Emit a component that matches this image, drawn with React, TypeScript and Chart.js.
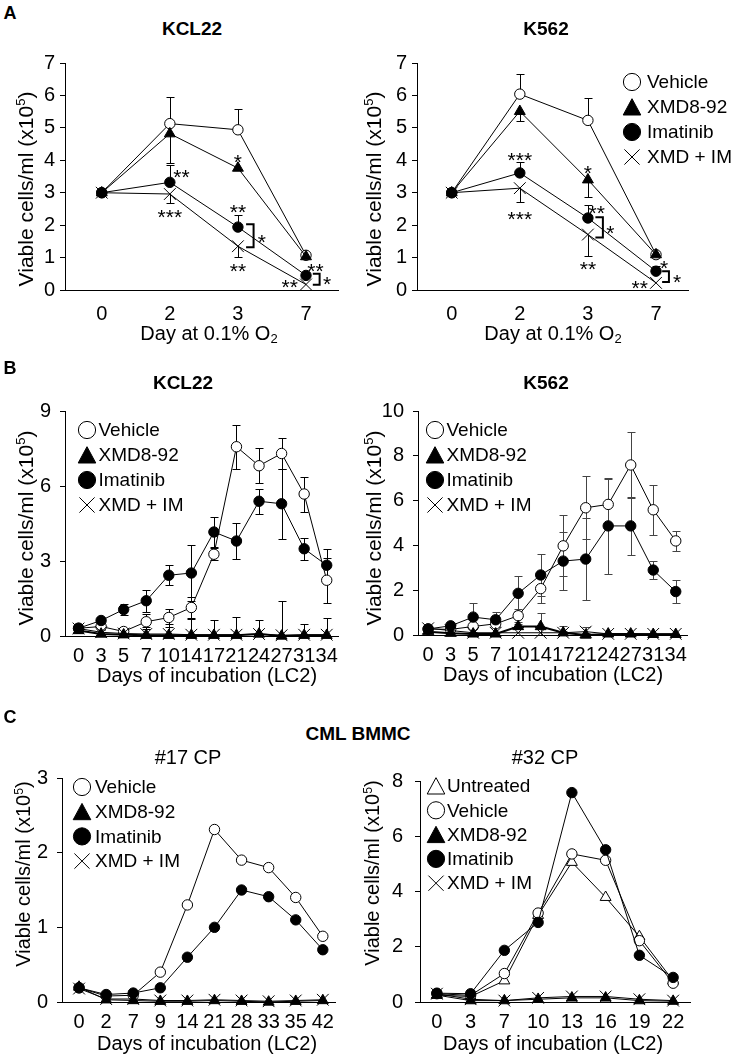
import React, { useEffect, useRef } from 'react';
import { Chart, registerables } from 'chart.js';

Chart.register(...registerables);

const FONT = "'Liberation Sans', Arial, Helvetica, sans-serif";

// ---------------- Panel A : Day at 0.1% O2 ----------------
const daysA = ['0', '2', '3', '7'];

const aKclVehicle = [3.0, 5.13, 4.94, 1.07];
const aKclVehicleErrUp = [0, 0.81, 0.65, 0];
const aKclXmd = [3.0, 4.82, 3.76, 1.03];
const aKclXmdErrDown = [0, 0.9, 0, 0];
const aKclIm = [3.0, 3.32, 1.94, 0.45];
const aKclImErrUp = [0, 0.54, 0.38, 0];
const aKclCombo = [3.0, 2.96, 1.35, 0.17];
const aKclComboErrDown = [0, 0.28, 0.33, 0];

const aK562Vehicle = [3.0, 6.04, 5.23, 1.09];
const aK562VehicleErrUp = [0, 0.63, 0.69, 0];
const aK562Xmd = [3.0, 5.51, 3.4, 1.09];
const aK562XmdErrDown = [0, 0.31, 0.54, 0];
const aK562Im = [3.0, 3.61, 2.22, 0.58];
const aK562ImErrUp = [0, 0.34, 0.41, 0.15];
const aK562Combo = [3.0, 3.14, 1.71, 0.22];
const aK562ComboErrDown = [0, 0.43, 0.67, 0];

// significance marks: [x (category index), y (value), text]
const aKclStars: [number, number, string][] = [
  [2.0, 4.12, '*'],
  [1.17, 3.64, '**'],
  [1.0, 2.4, '***'],
  [2.0, 2.55, '**'],
  [2.35, 1.65, '*'],
  [2.0, 0.76, '**'],
  [3.14, 0.76, '**'],
  [2.76, 0.25, '**'],
  [3.31, 0.34, '*'],
];
// brackets: [x of tips, x of spine, y top, y bottom]
const aKclBrackets: [number, number, number, number][] = [
  [2.12, 2.23, 2.03, 1.32],
  [3.1, 3.2, 0.5, 0.16],
];
const aK562Stars: [number, number, string][] = [
  [1.0, 4.17, '***'],
  [1.0, 2.34, '***'],
  [2.0, 3.76, '*'],
  [2.13, 2.53, '**'],
  [2.33, 1.91, '*'],
  [2.0, 0.8, '**'],
  [3.12, 0.83, '*'],
  [2.76, 0.22, '**'],
  [3.31, 0.42, '*'],
];
const aK562Brackets: [number, number, number, number][] = [
  [2.11, 2.22, 2.24, 1.62],
  [3.09, 3.19, 0.58, 0.25],
];

// ---------------- Panel B : Days of incubation (LC2) ----------------
const daysB = ['0', '3', '5', '7', '10', '14', '17', '21', '24', '27', '31', '34'];

const bKclVehicle = [0.31, 0.38, 0.18, 0.57, 0.74, 1.14, 3.27, 7.57, 6.81, 7.3, 5.68, 2.23];
const bKclVehicleErr = [0.05, 0.1, 0.1, 0.3, 0.36, 0.43, 0.24, 0.87, 0.69, 0.62, 0.7, 0.89];
const bKclXmd = [0.22, 0.08, 0.05, 0.03, 0.03, 0.03, 0.03, 0.03, 0.08, 0.0, 0.03, 0.03];
const bKclIm = [0.31, 0.62, 1.06, 1.41, 2.43, 2.52, 4.16, 3.8, 5.39, 5.29, 3.49, 2.83];
const bKclImErr = [0.05, 0.08, 0.23, 0.45, 0.4, 1.13, 0.58, 0.73, 0.5, 1.4, 0.45, 0.66];
const bKclCombo = [0.3, 0.15, 0.1, 0.08, 0.08, 0.05, 0.05, 0.05, 0.08, 0.03, 0.05, 0.05];
const bKclComboErr = [0, 0.1, 0.15, 0.3, 0.42, 0.65, 0.6, 0.72, 0.58, 1.38, 0.45, 0.69];

const bK562Vehicle = [0.27, 0.25, 0.38, 0.5, 0.86, 2.07, 3.98, 5.68, 5.83, 7.59, 5.59, 4.2];
const bK562VehicleErr = [0.05, 0.05, 0.1, 0.1, 0.3, 0.65, 1.36, 1.4, 1.12, 1.49, 1.12, 0.43];
const bK562Xmd = [0.15, 0.08, 0.05, 0.05, 0.38, 0.38, 0.1, 0.0, 0.05, 0.05, 0.03, 0.03];
const bK562XmdErr = [0, 0, 0, 0, 0.1, 0.6, 0.1, 0.1, 0, 0, 0, 0];
const bK562Im = [0.27, 0.41, 0.8, 0.68, 1.86, 2.68, 3.3, 3.39, 4.87, 4.87, 2.9, 1.94];
const bK562ImErr = [0.05, 0.05, 0.65, 0.34, 0.77, 0.92, 1.3, 1.82, 2.15, 1.3, 0.4, 0.5];
const bK562Combo = [0.3, 0.2, 0.1, 0.1, 0.1, 0.1, 0.1, 0.15, 0.05, 0.05, 0.05, 0.05];
const bK562ComboErr = [0, 0, 0, 0, 0, 0, 0.3, 0.2, 0, 0, 0, 0];

// ---------------- Panel C : CML BMMC ----------------
const daysC17 = ['0', '2', '7', '9', '14', '21', '28', '33', '35', '42'];
const c17Vehicle = [0.19, 0.08, 0.09, 0.4, 1.3, 2.31, 1.9, 1.8, 1.4, 0.88];
const c17Xmd = [0.2, 0.03, 0.02, 0.01, 0.01, 0.02, 0.01, 0.0, 0.01, 0.02];
const c17Im = [0.19, 0.1, 0.12, 0.19, 0.6, 1.0, 1.5, 1.41, 1.1, 0.7];
const c17Combo = [0.18, 0.04, 0.04, 0.02, 0.02, 0.03, 0.02, 0.01, 0.02, 0.03];

const daysC32 = ['0', '3', '7', '10', '13', '16', '19', '22'];
const c32Untreated = [0.25, 0.2, 0.77, 3.14, 5.06, 3.79, 2.37, 0.77];
const c32Vehicle = [0.3, 0.24, 1.03, 3.22, 5.36, 5.13, 2.22, 0.68];
const c32Xmd = [0.25, 0.05, 0.05, 0.1, 0.15, 0.15, 0.05, 0.03];
const c32Im = [0.32, 0.3, 1.87, 2.88, 7.58, 5.51, 1.69, 0.89];
const c32Combo = [0.3, 0.1, 0.05, 0.15, 0.2, 0.2, 0.1, 0.05];

// ---------------- types ----------------
type Marker = 'circle' | 'triangle' | 'crossRot';
interface SeriesDef {
  label: string;
  values: number[];
  marker: Marker;
  filled: boolean;
  errUp?: number[];
  errDown?: number[];
  lineWidth?: number;
  order: number;
}
interface PanelDef {
  key: string;
  cats: string[];
  series: SeriesDef[];
  yMax: number;
  yStep: number;
  area: { l: number; t: number; r: number; b: number };
  xMin: number;
  xMax: number;
  yPad: number;
  xPad: number;
  errColor?: string;
  legend?: { x: number; y: number; row: number; dx: number };
  stars?: [number, number, string][];
  brackets?: [number, number, number, number][];
}

const RADIUS: Record<Marker, number> = { circle: 5.2, triangle: 6.3, crossRot: 8.3 };
const PAD_L = 60;
const PAD_T = 20;
const PAD_R = 45;
const PAD_B = 45;

const S = (
  label: string,
  values: number[],
  marker: Marker,
  filled: boolean,
  order: number,
  extra: Partial<SeriesDef> = {}
): SeriesDef => ({ label, values, marker, filled, order, ...extra });

const panels: PanelDef[] = [
  {
    key: 'aKcl',
    cats: daysA,
    series: [
      S('Vehicle', aKclVehicle, 'circle', false, 3, { errUp: aKclVehicleErrUp }),
      S('XMD8-92', aKclXmd, 'triangle', true, 1, { errDown: aKclXmdErrDown }),
      S('Imatinib', aKclIm, 'circle', true, 0, { errUp: aKclImErrUp }),
      S('XMD + IM', aKclCombo, 'crossRot', false, 2, { errDown: aKclComboErrDown }),
    ],
    yMax: 7, yStep: 1,
    area: { l: 65, t: 63, r: 338, b: 290 }, xMin: -0.54, xMax: 3.47,
    yPad: 5, xPad: 12,
    stars: aKclStars, brackets: aKclBrackets,
  },
  {
    key: 'aK562',
    cats: daysA,
    series: [
      S('Vehicle', aK562Vehicle, 'circle', false, 3, { errUp: aK562VehicleErrUp }),
      S('XMD8-92', aK562Xmd, 'triangle', true, 1, { errDown: aK562XmdErrDown }),
      S('Imatinib', aK562Im, 'circle', true, 0, { errUp: aK562ImErrUp }),
      S('XMD + IM', aK562Combo, 'crossRot', false, 2, { errDown: aK562ComboErrDown }),
    ],
    yMax: 7, yStep: 1,
    area: { l: 417, t: 63, r: 688, b: 290 }, xMin: -0.51, xMax: 3.47,
    yPad: 5, xPad: 12,
    legend: { x: 632, y: 82, row: 25, dx: 15 },
    stars: aK562Stars, brackets: aK562Brackets,
  },
  {
    key: 'bKcl',
    cats: daysB,
    series: [
      S('Vehicle', bKclVehicle, 'circle', false, 3, { errUp: bKclVehicleErr, errDown: bKclVehicleErr }),
      S('XMD8-92', bKclXmd, 'triangle', true, 1, { lineWidth: 2 }),
      S('Imatinib', bKclIm, 'circle', true, 0, { errUp: bKclImErr, errDown: bKclImErr }),
      S('XMD + IM', bKclCombo, 'crossRot', false, 2, { errUp: bKclComboErr, errDown: bKclComboErr }),
    ],
    yMax: 9, yStep: 3,
    area: { l: 65, t: 410, r: 338, b: 636 }, xMin: -0.6, xMax: 11.5,
    yPad: 9, xPad: 8,
    legend: { x: 87, y: 430, row: 25, dx: 11.5 },
  },
  {
    key: 'bK562',
    cats: daysB,
    series: [
      S('Vehicle', bK562Vehicle, 'circle', false, 3, { errUp: bK562VehicleErr, errDown: bK562VehicleErr }),
      S('XMD8-92', bK562Xmd, 'triangle', true, 1, { lineWidth: 2, errUp: bK562XmdErr, errDown: bK562XmdErr }),
      S('Imatinib', bK562Im, 'circle', true, 0, { errUp: bK562ImErr, errDown: bK562ImErr }),
      S('XMD + IM', bK562Combo, 'crossRot', false, 2, { errUp: bK562ComboErr, errDown: bK562ComboErr }),
    ],
    yMax: 10, yStep: 2,
    area: { l: 418, t: 410, r: 687, b: 635 }, xMin: -0.45, xMax: 11.5,
    yPad: 9, xPad: 8,
    errColor: '#444',
    legend: { x: 435, y: 430, row: 25, dx: 11.5 },
  },
  {
    key: 'c17',
    cats: daysC17,
    series: [
      S('Vehicle', c17Vehicle, 'circle', false, 3),
      S('XMD8-92', c17Xmd, 'triangle', true, 1),
      S('Imatinib', c17Im, 'circle', true, 0),
      S('XMD + IM', c17Combo, 'crossRot', false, 2),
    ],
    yMax: 3, yStep: 1,
    area: { l: 62, t: 777, r: 335, b: 1002 }, xMin: -0.63, xMax: 9.45,
    yPad: 9, xPad: 8,
    legend: { x: 82, y: 787, row: 24.7, dx: 13 },
  },
  {
    key: 'c32',
    cats: daysC32,
    series: [
      S('Untreated', c32Untreated, 'triangle', false, 4),
      S('Vehicle', c32Vehicle, 'circle', false, 3),
      S('XMD8-92', c32Xmd, 'triangle', true, 1),
      S('Imatinib', c32Im, 'circle', true, 0),
      S('XMD + IM', c32Combo, 'crossRot', false, 2),
    ],
    yMax: 8, yStep: 2,
    area: { l: 420, t: 777, r: 690, b: 1002 }, xMin: -0.5, xMax: 7.5,
    yPad: 12, xPad: 8,
    legend: { x: 436, y: 786, row: 24.3, dx: 11 },
  },
];

// ---------------- drawing helpers ----------------
function drawLegendMarker(ctx: CanvasRenderingContext2D, m: Marker, filled: boolean, x: number, y: number) {
  ctx.save();
  ctx.lineWidth = 1;
  ctx.strokeStyle = '#000';
  ctx.fillStyle = filled ? '#000' : '#fff';
  ctx.beginPath();
  if (m === 'circle') {
    ctx.arc(x, y, 8.6, 0, Math.PI * 2);
    ctx.fill();
    ctx.stroke();
  } else if (m === 'triangle') {
    ctx.moveTo(x, y - 8.3);
    ctx.lineTo(x + 8.8, y + 8);
    ctx.lineTo(x - 8.8, y + 8);
    ctx.closePath();
    ctx.fill();
    ctx.stroke();
  } else {
    const h = 7.6;
    ctx.moveTo(x - h, y - h);
    ctx.lineTo(x + h, y + h);
    ctx.moveTo(x + h, y - h);
    ctx.lineTo(x - h, y + h);
    ctx.stroke();
  }
  ctx.restore();
}

function buildConfig(def: PanelDef, ox: number, oy: number): any {
  const datasets = def.series.map((s) => ({
    label: s.label,
    data: s.values.map((v, i) => ({ x: i, y: v })),
    borderColor: '#000',
    borderWidth: s.lineWidth ?? 1,
    backgroundColor: s.filled ? '#000' : '#fff',
    pointStyle: s.marker,
    pointRadius: RADIUS[s.marker],
    pointBackgroundColor: s.filled ? '#000' : '#fff',
    pointBorderColor: '#000',
    pointBorderWidth: 1,
    tension: 0,
    fill: false,
    clip: false,
    order: s.order,
  }));

  const errorBars = {
    id: 'errorBars_' + def.key,
    beforeDatasetsDraw(chart: any) {
      const { ctx, chartArea, scales } = chart;
      const xs = scales.x;
      const ys = scales.y;
      ctx.save();
      ctx.beginPath();
      ctx.rect(chartArea.left, chartArea.top, chartArea.right - chartArea.left, chartArea.bottom - chartArea.top);
      ctx.clip();
      ctx.strokeStyle = def.errColor ?? '#000';
      ctx.lineWidth = 1;
      def.series.forEach((s) => {
        s.values.forEach((v, i) => {
          const up = s.errUp ? s.errUp[i] : 0;
          const dn = s.errDown ? s.errDown[i] : 0;
          if (!up && !dn) return;
          const px = Math.round(xs.getPixelForValue(i)) + 0.5;
          const yTop = Math.round(ys.getPixelForValue(v + up)) + 0.5;
          const yBot = Math.round(ys.getPixelForValue(v - dn)) + 0.5;
          ctx.beginPath();
          ctx.moveTo(px, yTop);
          ctx.lineTo(px, yBot);
          if (up) {
            ctx.moveTo(px - 4, yTop);
            ctx.lineTo(px + 4, yTop);
          }
          if (dn) {
            ctx.moveTo(px - 4, yBot);
            ctx.lineTo(px + 4, yBot);
          }
          ctx.stroke();
        });
      });
      ctx.restore();
    },
  };

  const marks = {
    id: 'marks_' + def.key,
    afterDatasetsDraw(chart: any) {
      const { ctx, scales } = chart;
      const xs = scales.x;
      const ys = scales.y;
      ctx.save();
      ctx.fillStyle = '#000';
      ctx.font = `21px ${FONT}`;
      ctx.textAlign = 'center';
      ctx.textBaseline = 'alphabetic';
      (def.stars ?? []).forEach(([sx, sy, t]) => {
        ctx.fillText(t, xs.getPixelForValue(sx), ys.getPixelForValue(sy) + 0.58 * 21);
      });
      ctx.strokeStyle = '#000';
      ctx.lineWidth = 2;
      (def.brackets ?? []).forEach(([x0, x1, y1, y2]) => {
        const a = xs.getPixelForValue(x0);
        const b = xs.getPixelForValue(x1);
        const t = ys.getPixelForValue(y1);
        const u = ys.getPixelForValue(y2);
        ctx.beginPath();
        ctx.moveTo(a, t);
        ctx.lineTo(b, t);
        ctx.lineTo(b, u);
        ctx.lineTo(a, u);
        ctx.stroke();
      });
      ctx.restore();
    },
  };

  const legend = {
    id: 'legend_' + def.key,
    afterDraw(chart: any) {
      if (!def.legend) return;
      const { ctx } = chart;
      const L = def.legend;
      ctx.save();
      ctx.font = `19px ${FONT}`;
      ctx.fillStyle = '#000';
      ctx.textAlign = 'left';
      ctx.textBaseline = 'middle';
      def.series.forEach((s, i) => {
        const cy = L.y - oy + i * L.row;
        const cx = L.x - ox;
        drawLegendMarker(ctx, s.marker, s.filled, cx, cy);
        ctx.fillText(s.label, cx + L.dx, cy + 1);
      });
      ctx.restore();
    },
  };

  return {
    type: 'line',
    data: { datasets },
    options: {
      responsive: false,
      animation: false,
      events: [],
      layout: { padding: { top: PAD_T, right: PAD_R, bottom: 0, left: 0 } },
      plugins: { legend: { display: false }, tooltip: { enabled: false }, title: { display: false } },
      scales: {
        x: {
          type: 'linear',
          min: def.xMin,
          max: def.xMax,
          afterBuildTicks: (s: any) => {
            s.ticks = def.cats.map((_, i) => ({ value: i }));
          },
          afterFit: (s: any) => {
            s.height = PAD_B;
          },
          ticks: {
            autoSkip: false,
            maxRotation: 0,
            minRotation: 0,
            padding: def.xPad,
            color: '#000',
            font: { family: FONT, size: 20 },
            callback: (v: any) => def.cats[Math.round(Number(v))] ?? '',
          },
          grid: { display: false, drawTicks: false },
          border: { display: true, color: '#000', width: 1 },
        },
        y: {
          type: 'linear',
          min: 0,
          max: def.yMax,
          afterFit: (s: any) => {
            s.width = PAD_L;
          },
          ticks: {
            stepSize: def.yStep,
            padding: def.yPad,
            color: '#000',
            font: { family: FONT, size: 20 },
          },
          grid: { drawOnChartArea: false, drawTicks: true, tickLength: 5, color: '#000', lineWidth: 1 },
          border: { display: true, color: '#000', width: 1 },
        },
      },
    },
    plugins: [errorBars, marks, legend],
  };
}

function ChartPanel({ def }: { def: PanelDef }) {
  const ref = useRef<HTMLCanvasElement>(null);
  const ox = def.area.l - PAD_L;
  const oy = def.area.t - PAD_T;
  const w = def.area.r - def.area.l + PAD_L + PAD_R;
  const h = def.area.b - def.area.t + PAD_T + PAD_B;
  useEffect(() => {
    const chart = new Chart(ref.current as HTMLCanvasElement, buildConfig(def, ox, oy));
    return () => chart.destroy();
  }, []);
  return (
    <canvas
      ref={ref}
      width={w}
      height={h}
      style={{ position: 'absolute', left: ox, top: oy, width: w, height: h }}
    />
  );
}

function T({
  x,
  y,
  size = 20,
  bold = false,
  rotate = false,
  children,
}: {
  x: number;
  y: number;
  size?: number;
  bold?: boolean;
  rotate?: boolean;
  children: React.ReactNode;
}) {
  return (
    <div
      style={{
        position: 'absolute',
        left: x,
        top: y,
        transform: `translate(-50%, -50%)${rotate ? ' rotate(-90deg)' : ''}`,
        whiteSpace: 'nowrap',
        fontSize: size,
        fontWeight: bold ? 700 : 400,
        lineHeight: 1,
        fontFamily: FONT,
        color: '#000',
      }}
    >
      {children}
    </div>
  );
}

const YTitle = () => (
  <>
    Viable cells/ml (x10<span style={{ fontSize: '0.62em', verticalAlign: '0.55em' }}>5</span>)
  </>
);
const O2Title = () => (
  <>
    Day at 0.1% O<span style={{ fontSize: '0.65em', verticalAlign: '-0.3em' }}>2</span>
  </>
);

export default function App() {
  return (
    <div style={{ position: 'absolute', left: 0, top: 0, width: 733, height: 1054, background: '#fff', overflow: 'hidden' }}>
      {panels.map((p) => (
        <ChartPanel key={p.key} def={p} />
      ))}

      <T x={10} y={13} size={18} bold>A</T>
      <T x={192} y={28} size={19} bold>KCL22</T>
      <T x={546} y={28} size={19} bold>K562</T>
      <T x={25} y={189} size={21} rotate><YTitle /></T>
      <T x={373} y={189} size={21} rotate><YTitle /></T>
      <T x={209} y={334} size={20}><O2Title /></T>
      <T x={553} y={334} size={20}><O2Title /></T>

      <T x={10} y={368} size={18} bold>B</T>
      <T x={183} y={382} size={19} bold>KCL22</T>
      <T x={546} y={382} size={19} bold>K562</T>
      <T x={25} y={528} size={21} rotate><YTitle /></T>
      <T x={373} y={528} size={21} rotate><YTitle /></T>
      <T x={207} y={675} size={20}>Days of incubation (LC2)</T>
      <T x={553} y={674} size={20}>Days of incubation (LC2)</T>

      <T x={10} y={717} size={18} bold>C</T>
      <T x={358} y={733} size={19} bold>CML BMMC</T>
      <T x={188} y={757} size={20}>#17 CP</T>
      <T x={545} y={757} size={20}>#32 CP</T>
      <T x={23} y={874} size={20} rotate><YTitle /></T>
      <T x={372} y={873} size={20} rotate><YTitle /></T>
      <T x={207} y={1043} size={20}>Days of incubation (LC2)</T>
      <T x={553} y={1043} size={20}>Days of incubation (LC2)</T>
    </div>
  );
}
